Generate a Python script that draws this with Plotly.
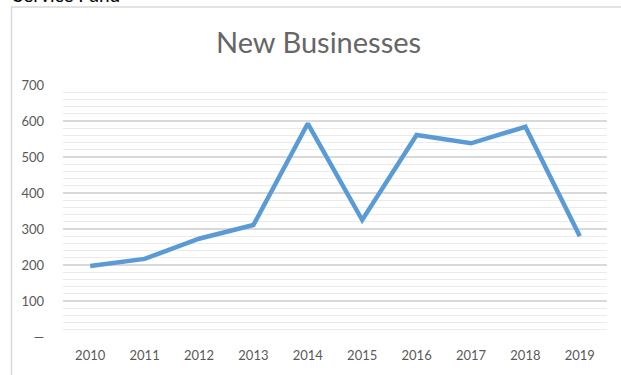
import plotly.graph_objects as go

# New businesses registered per year
years = ["2010", "2011", "2012", "2013", "2014", "2015", "2016", "2017", "2018", "2019"]
new_businesses = [197, 217, 273, 311, 593, 325, 561, 538, 584, 280]

y_tick_values = [0, 100, 200, 300, 400, 500, 600, 700]
y_tick_labels = ["\u2014", "100", "200", "300", "400", "500", "600", "700"]

W, H = 621, 375
ML, MR, MT, MB = 63, 14, 85, 38
plot_w = W - ML - MR
plot_h = H - MT - MB


def px_x(p):
    return (p - ML) / plot_w


def px_y(q):
    return (H - MB - q) / plot_h


fig = go.Figure()
fig.add_trace(go.Scatter(
    x=years,
    y=new_businesses,
    mode="lines",
    line=dict(color="#5b9bd5", width=4.5),
    hoverinfo="x+y",
))

fig.update_layout(
    width=W,
    height=H,
    margin=dict(l=ML, r=MR, t=MT, b=MB),
    paper_bgcolor="white",
    plot_bgcolor="white",
    showlegend=False,
    font=dict(family="Lato, Open Sans, sans-serif", color="#595959"),
    xaxis=dict(
        type="category",
        range=[-0.5, 9.5],
        showgrid=False,
        zeroline=False,
        showline=False,
        ticks="",
        tickfont=dict(size=13, color="#595959"),
        ticklabelstandoff=9,
    ),
    yaxis=dict(
        range=[0, 700],
        tickvals=y_tick_values,
        ticktext=y_tick_labels,
        showgrid=True,
        gridcolor="#d9d9d9",
        gridwidth=1.5,
        zeroline=False,
        showline=False,
        ticks="",
        tickfont=dict(size=13, color="#595959"),
        ticklabelstandoff=18,
        minor=dict(dtick=20, showgrid=True, gridcolor="#ebebeb", gridwidth=1),
    ),
    shapes=[
        # chart frame
        dict(type="rect", xref="paper", yref="paper",
             x0=px_x(11.5), x1=px_x(640), y0=px_y(400), y1=px_y(7),
             line=dict(color="#d9d9d9", width=1.5), fillcolor="rgba(0,0,0,0)",
             layer="below"),
    ],
    annotations=[
        dict(text="New Businesses", xref="paper", yref="paper",
             x=px_x(318), y=px_y(42), xanchor="center", yanchor="middle",
             showarrow=False,
             font=dict(size=29, color="#666666", family="Lato, Open Sans, sans-serif")),
        dict(text="Service Fund", xref="paper", yref="paper",
             x=px_x(11), y=px_y(8), xanchor="left", yanchor="bottom",
             showarrow=False,
             font=dict(size=19, color="#000000", family="Lato, Open Sans, sans-serif")),
    ],
)

fig.write_html("out.html")
